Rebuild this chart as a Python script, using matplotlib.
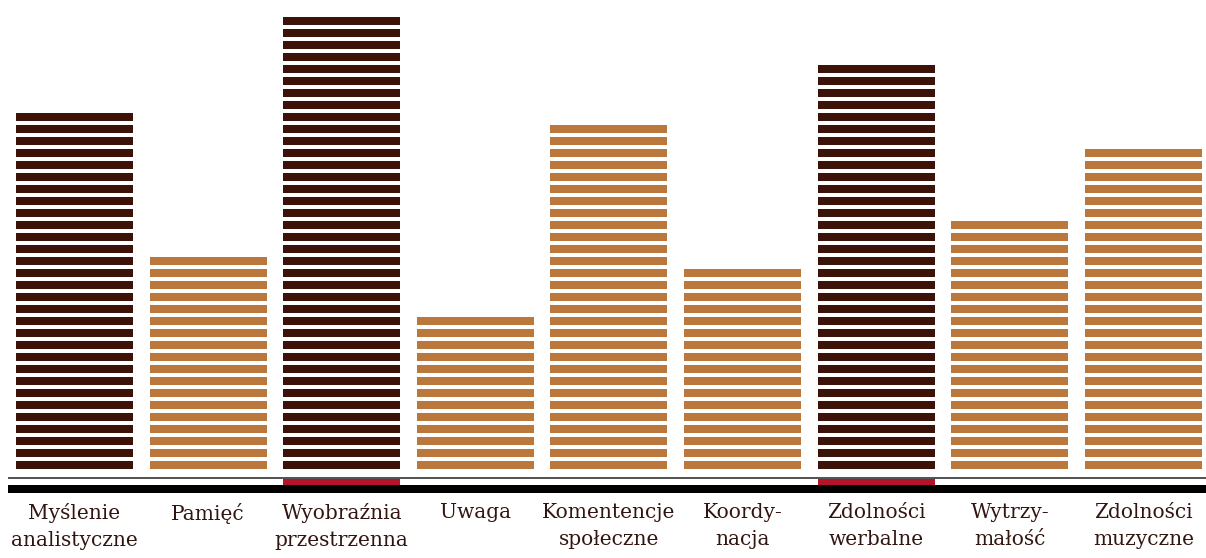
import numpy as np
import matplotlib.pyplot as plt

# stripes per bar (each stripe = one unit)
labels = ['Myślenie\nanalistyczne', 'Pamięć', 'Wyobraźnia\nprzestrzenna', 'Uwaga',
          'Komentencje\nspołeczne', 'Koordy-\nnacja', 'Zdolności\nwerbalne',
          'Wytrzy-\nmałość', 'Zdolności\nmuzyczne']
stripes = [30, 18, 38, 13, 29, 17, 34, 21, 27]
dark = [True, False, True, False, False, False, True, False, False]
marked = [False, False, True, False, False, False, True, False, False]

c_dark = '#3d1209'
c_light = '#bb783d'
c_red = '#b3132b'
c_text = '#33150f'

fig = plt.figure(figsize=(12.06, 5.58), dpi=100)
ax = fig.add_axes([0, 0, 1, 1])
ax.set_xlim(-0.5576, 8.469)
ax.set_ylim(-7.4167, 39.083)
ax.axis('off')

bw = 0.876
x = np.arange(len(stripes))
for i, n in enumerate(stripes):
    col = c_dark if dark[i] else c_light
    ax.bar(np.full(n, x[i]), 0.667, bottom=np.arange(n), width=bw,
           color=col, edgecolor='none', align='center')
    if marked[i]:
        ax.bar(x[i], 0.5, bottom=-1.333, width=bw, color=c_red, edgecolor='none')
    ax.text(x[i], -2.85, labels[i], ha='center', va='top', fontsize=14.5,
            family='DejaVu Serif', color=c_text, linespacing=1.55)

# baseline lines
left, right = -0.498, 8.469
ax.hlines(-0.75, left, right, color='#333333', linewidth=1.2)
ax.bar(left, 0.667, bottom=-2.0, width=right - left, color='black',
       edgecolor='none', align='edge')

fig.savefig('out.png', dpi=100)
